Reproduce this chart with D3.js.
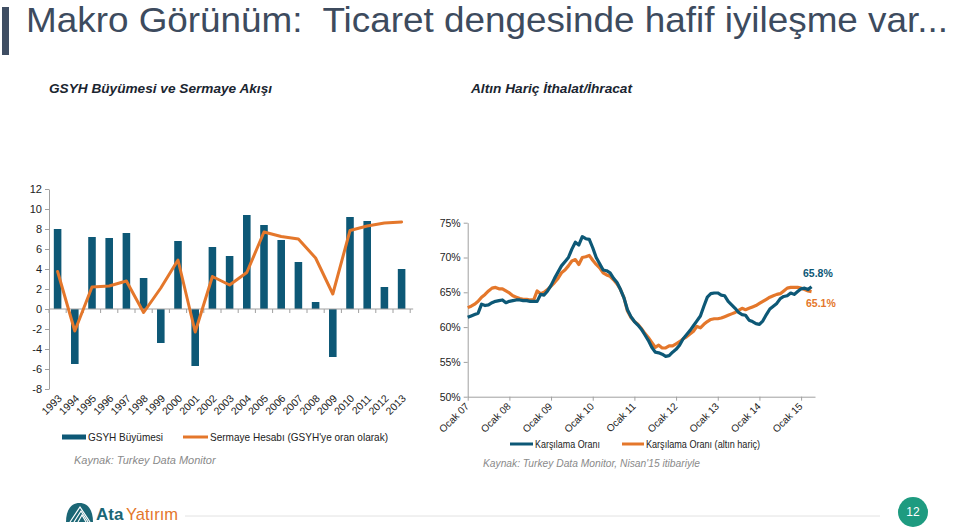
<!DOCTYPE html>
<html><head><meta charset="utf-8">
<script src="https://cdn.jsdelivr.net/npm/d3@7"></script>
<style>
html,body{margin:0;padding:0;background:#fff;}
svg{display:block;font-family:"Liberation Sans",Arial,sans-serif;}
</style></head>
<body>
<svg id="c" width="960" height="528"></svg>
<script>
// ---- Data ----
const years = ["1993","1994","1995","1996","1997","1998","1999","2000","2001","2002","2003","2004","2005","2006","2007","2008","2009","2010","2011","2012","2013"];
const gdpGrowth = [8.0,-5.5,7.2,7.1,7.6,3.1,-3.4,6.8,-5.7,6.2,5.3,9.4,8.4,6.9,4.7,0.7,-4.8,9.2,8.8,2.2,4.0];
const capitalAccount = [3.75,-2.2,2.2,2.3,2.8,-0.35,2.1,4.9,-2.3,3.25,2.4,3.65,7.7,7.25,7.0,5.1,1.5,7.85,8.3,8.6,8.7];
const leftYTicks = [-8,-6,-4,-2,0,2,4,6,8,10,12];

const monthLabels = ["Ocak 07","Ocak 08","Ocak 09","Ocak 10","Ocak 11","Ocak 12","Ocak 13","Ocak 14","Ocak 15"];
const coverage = [61.4,61.6,61.8,62.0,63.3,63.1,63.2,63.5,63.7,63.8,63.9,63.5,63.7,63.8,63.9,63.9,63.8,63.8,63.7,63.7,
  63.7,64.7,64.6,65.2,66.0,67.0,67.9,68.8,69.4,70.0,71.2,72.2,71.8,73.0,72.7,72.6,71.4,70.0,69.1,68.2,
  68.1,67.8,67.0,66.4,65.4,64.2,62.5,61.5,60.8,60.3,59.7,58.9,58.1,57.1,56.4,56.3,56.1,55.8,55.9,56.4,
  56.8,57.4,58.3,58.9,59.5,60.2,60.9,61.6,63.0,64.3,64.8,64.9,64.9,64.6,64.5,63.7,63.2,62.7,62.1,61.8,
  61.7,61.0,60.8,60.5,60.4,60.9,61.8,62.6,63.0,63.4,64.1,64.4,64.5,64.9,64.7,65.1,65.5,65.6,65.4,65.8];
const coverageExGold = [62.8,63.0,63.3,63.7,64.3,64.7,65.2,65.6,65.7,65.5,65.5,65.2,64.9,64.5,64.3,64.1,64.0,64.0,63.9,63.9,
  65.2,64.8,65.0,65.4,65.9,66.4,67.0,67.8,68.2,68.8,69.5,69.7,69.0,70.0,70.1,70.3,69.6,69.0,68.5,67.8,
  67.5,67.3,66.8,66.2,65.4,64.2,62.3,61.4,60.8,60.4,59.8,59.1,58.5,57.8,57.1,57.4,57.0,57.0,57.3,57.3,
  57.6,57.9,58.3,58.6,59.0,59.4,60.1,59.9,60.4,60.8,61.1,61.2,61.2,61.3,61.5,61.7,61.9,62.1,62.4,62.7,
  62.5,62.7,62.9,63.1,63.4,63.7,64.0,64.3,64.5,64.7,64.8,65.2,65.6,65.7,65.7,65.7,65.6,65.4,65.2,65.1];
const rightYTicks = [50,55,60,65,70,75];

const TEAL = "#0d5876", ORANGE = "#e4772b", AXIS = "#a0a0a0", TXT = "#222";

const svg = d3.select("#c");

// ---- Header ----
svg.append("rect").attr("x",2).attr("y",7).attr("width",7).attr("height",48).attr("fill","#3f4e63");
svg.append("text").attr("x",26).attr("y",32).attr("font-size",35).attr("fill","#3d4b5e")
  .attr("xml:space","preserve").style("white-space","pre")
  .attr("textLength",922).attr("lengthAdjust","spacingAndGlyphs")
  .text("Makro Görünüm:  Ticaret dengesinde hafif iyileşme var...");
svg.append("text").attr("x",49).attr("y",93).attr("font-size",12.5).attr("font-weight","bold").attr("font-style","italic")
  .attr("fill","#1a2530").attr("textLength",223).attr("lengthAdjust","spacingAndGlyphs").text("GSYH Büyümesi ve Sermaye Akışı");
svg.append("text").attr("x",471).attr("y",93).attr("font-size",12.5).attr("font-weight","bold").attr("font-style","italic")
  .attr("fill","#1a2530").attr("textLength",161).attr("lengthAdjust","spacingAndGlyphs").text("Altın Hariç İthalat/İhracat");

// ---- Left chart ----
const xL = d3.scaleBand().domain(years).range([49,410.2]).paddingInner(0.56).paddingOuter(0.28);
const yL = d3.scaleLinear().domain([-8,12]).range([389,189]);
const gL = svg.append("g");

const yAxL = gL.append("g").attr("transform","translate(49,0)")
  .call(d3.axisLeft(yL).tickValues(leftYTicks).tickSize(4).tickSizeOuter(0).tickFormat(d=>String(d)));
yAxL.selectAll("path,line").attr("stroke",AXIS);
yAxL.selectAll("text").attr("font-size",11).attr("fill",TXT).attr("font-family","Liberation Sans, Arial").attr("x",-7);

gL.selectAll("rect.bar").data(years).join("rect").attr("class","bar")
  .attr("x",d=>xL(d)).attr("width",xL.bandwidth())
  .attr("y",(d,i)=>yL(Math.max(0,gdpGrowth[i])))
  .attr("height",(d,i)=>Math.abs(yL(gdpGrowth[i])-yL(0)))
  .attr("fill",TEAL);

const step = xL.step();
const x0L = xL.range()[0];
gL.append("line").attr("x1",x0L).attr("x2",x0L+step*years.length+3).attr("y1",yL(0)).attr("y2",yL(0)).attr("stroke",AXIS);
gL.selectAll("line.ct").data(d3.range(years.length+1)).join("line").attr("class","ct")
  .attr("x1",i=>x0L+i*step).attr("x2",i=>x0L+i*step).attr("y1",yL(0)).attr("y2",yL(0)+4).attr("stroke",AXIS);

const lineL = d3.line().x((d,i)=>xL(years[i])+xL.bandwidth()/2).y(d=>yL(d));
gL.append("path").datum(capitalAccount).attr("d",lineL).attr("fill","none").attr("stroke",ORANGE)
  .attr("stroke-width",3).attr("stroke-linejoin","round").attr("stroke-linecap","round");

gL.selectAll("text.yr").data(years).join("text").attr("class","yr")
  .attr("transform",d=>`translate(${xL(d)+xL.bandwidth()/2+5},${399}) rotate(-45)`)
  .attr("text-anchor","end").attr("font-size",10.5).attr("fill",TXT).text(d=>d);

// left legend
svg.append("rect").attr("x",62).attr("y",434.5).attr("width",24).attr("height",5).attr("fill",TEAL);
svg.append("text").attr("x",88).attr("y",441).attr("font-size",11).attr("fill",TXT)
  .attr("textLength",75).attr("lengthAdjust","spacingAndGlyphs").text("GSYH Büyümesi");
svg.append("line").attr("x1",183).attr("x2",208).attr("y1",437).attr("y2",437).attr("stroke",ORANGE).attr("stroke-width",3);
svg.append("text").attr("x",210).attr("y",441).attr("font-size",11).attr("fill",TXT)
  .attr("textLength",178).attr("lengthAdjust","spacingAndGlyphs").text("Sermaye Hesabı (GSYH'ye oran olarak)");
svg.append("text").attr("x",74).attr("y",464).attr("font-size",11).attr("font-style","italic").attr("fill","#8a8a8a")
  .text("Kaynak: Turkey Data Monitor");

// ---- Right chart ----
const xR = d3.scaleLinear().domain([0,100]).range([467.7,815]);
const yR = d3.scaleLinear().domain([50,75]).range([396.7,222.7]);
const gR = svg.append("g");
const yAxR = gR.append("g").attr("transform","translate(467.7,0)")
  .call(d3.axisLeft(yR).tickValues(rightYTicks).tickSize(4).tickSizeOuter(0).tickFormat(d=>d+"%"));
yAxR.selectAll("path,line").attr("stroke",AXIS);
yAxR.selectAll("text").attr("font-size",10.5).attr("fill",TXT).attr("font-family","Liberation Sans, Arial").attr("x",-7);

const tickIdx = monthLabels.map((d,i)=>i*12);
const xAxR = gR.append("g").attr("transform",`translate(0,${yR(50)})`)
  .call(d3.axisBottom(xR).tickValues(tickIdx).tickSize(4).tickSizeOuter(0).tickFormat(""));
xAxR.selectAll("path,line").attr("stroke",AXIS);
gR.selectAll("text.ml").data(monthLabels).join("text").attr("class","ml")
  .attr("transform",(d,i)=>`translate(${xR(tickIdx[i])+2},${407}) rotate(-45)`)
  .attr("text-anchor","end").attr("font-size",10).attr("fill",TXT).text(d=>d);

const lineR = d3.line().x((d,i)=>xR(i)).y(d=>yR(d));
gR.append("path").datum(coverageExGold).attr("d",lineR).attr("fill","none").attr("stroke",ORANGE)
  .attr("stroke-width",3.2).attr("stroke-linejoin","round");
gR.append("path").datum(coverage).attr("d",lineR).attr("fill","none").attr("stroke",TEAL)
  .attr("stroke-width",3.2).attr("stroke-linejoin","round");

gR.append("text").attr("x",803).attr("y",277).attr("font-size",10.5).attr("font-weight","bold").attr("fill",TEAL)
  .text(d3.format(".1f")(coverage[coverage.length-1])+"%");
gR.append("text").attr("x",806).attr("y",307).attr("font-size",10.5).attr("font-weight","bold").attr("fill",ORANGE)
  .text(d3.format(".1f")(coverageExGold[coverageExGold.length-1])+"%");

// right legend
svg.append("line").attr("x1",510).attr("x2",533).attr("y1",444).attr("y2",444).attr("stroke",TEAL).attr("stroke-width",3);
svg.append("text").attr("x",535).attr("y",448).attr("font-size",11).attr("fill",TXT)
  .attr("textLength",65).attr("lengthAdjust","spacingAndGlyphs").text("Karşılama Oranı");
svg.append("line").attr("x1",622).attr("x2",644).attr("y1",444).attr("y2",444).attr("stroke",ORANGE).attr("stroke-width",3);
svg.append("text").attr("x",646).attr("y",448).attr("font-size",11).attr("fill",TXT)
  .attr("textLength",114).attr("lengthAdjust","spacingAndGlyphs").text("Karşılama Oranı (altın hariç)");
svg.append("text").attr("x",483).attr("y",467).attr("font-size",11).attr("font-style","italic").attr("fill","#8a8a8a")
  .attr("textLength",217).attr("lengthAdjust","spacingAndGlyphs").text("Kaynak: Turkey Data Monitor, Nisan'15 itibariyle");

// ---- Footer ----
svg.append("line").attr("x1",185).attr("x2",880).attr("y1",516).attr("y2",516).attr("stroke","#e2e2e2");
const logo = svg.append("g");
logo.append("path").attr("d","M66,522 C66,510 71,503 79.5,503 C88,503 93,510 93,522 Z").attr("fill","#1b6675");
[[70,522,80,507,90,522],[74,522,81,511,88,522],[78,522,82,515,86,522]].forEach(p=>{
  logo.append("path").attr("d",`M${p[0]},${p[1]} L${p[2]},${p[3]} L${p[4]},${p[5]}`).attr("fill","none").attr("stroke","#fff").attr("stroke-width",1.2);
});
logo.append("text").attr("x",96).attr("y",520).attr("font-size",17).attr("font-weight","bold").attr("fill","#1b6675").text("Ata");
logo.append("text").attr("x",126).attr("y",520).attr("font-size",17).attr("fill",ORANGE)
  .attr("textLength",52).attr("lengthAdjust","spacingAndGlyphs").text("Yatırım");
svg.append("circle").attr("cx",913).attr("cy",512).attr("r",15).attr("fill","#1e9b80");
svg.append("text").attr("x",913).attr("y",516).attr("text-anchor","middle").attr("font-size",12).attr("fill","#fff").text("12");
</script>
</body></html>
